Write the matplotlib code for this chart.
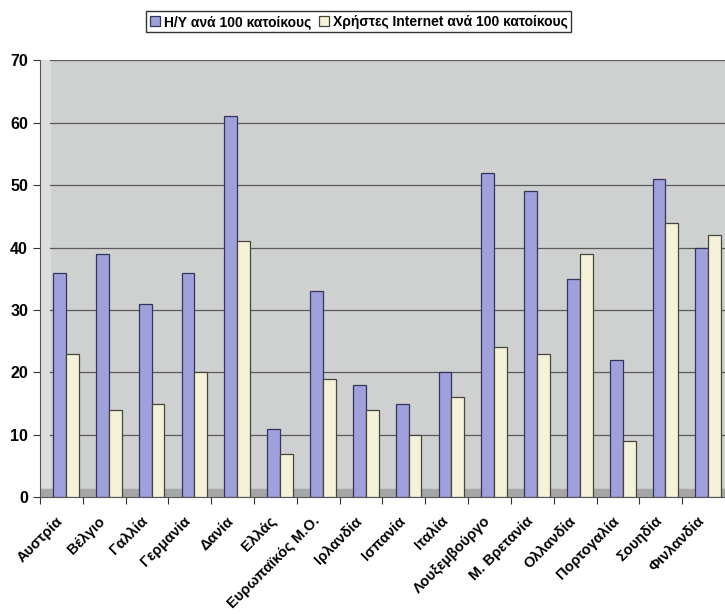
import matplotlib.pyplot as plt
from matplotlib.patches import Rectangle
import numpy as np

countries = ['Αυστρία', 'Βέλγιο', 'Γαλλία', 'Γερμανία', 'Δανία', 'Ελλάς',
             'Ευρωπαϊκός Μ.Ο.', 'Ιρλανδία', 'Ισπανία', 'Ιταλία', 'Λουξεμβούργο',
             'Μ. Βρετανία', 'Ολλανδία', 'Πορτογαλία', 'Σουηδία', 'Φινλανδία']
pcs = [36, 39, 31, 36, 61, 11, 33, 18, 15, 20, 52, 49, 35, 22, 51, 40]
internet = [23, 14, 15, 20, 41, 7, 19, 14, 10, 16, 24, 23, 39, 9, 44, 42]
label_pcs = 'Η/Υ ανά 100 κατοίκους'
label_net = 'Χρήστες Internet ανά 100 κατοίκους'

plt.rcParams['font.family'] = ['Liberation Sans', 'DejaVu Sans']

fig = plt.figure(figsize=(7.25, 6.14), dpi=100)
ax = fig.add_axes([0.055, 0.19, 0.945, 0.712])
ax.set_facecolor('#cfd1d1')

x = np.arange(len(countries))
w = 0.30
ax.bar(x - 0.04, pcs, w, color='#a0a0dc', edgecolor='#34345a', linewidth=0.9,
       label=label_pcs, zorder=3)
ax.bar(x + 0.26, internet, w, color='#f4f2d8', edgecolor='#46463a', linewidth=0.9,
       label=label_net, zorder=3)

# grid on the back wall
for v in range(10, 80, 10):
    ax.axhline(v, xmin=0.015, color='#5a5a5a', lw=0.9, zorder=1)
# left wall and floor for the 3d look
ax.add_patch(Rectangle((0, 0), 0.015, 1, transform=ax.transAxes,
                       color='#dcdddd', zorder=0.5))
ax.add_patch(Rectangle((0, 0), 1, 0.02, transform=ax.transAxes,
                       color='#a6a6a6', zorder=2))

ax.set_xlim(-0.5, len(countries) - 0.5)
ax.set_ylim(0, 70)
ax.set_yticks(range(0, 80, 10))
ax.set_xticks(x - 0.5)
ax.set_xticklabels([])
ax.set_xticks(x - 0.14, minor=True)
ax.set_xticklabels(countries, minor=True, rotation=45, ha='right',
                   rotation_mode='anchor', fontsize=10.5, fontweight='bold')
ax.tick_params(axis='x', which='minor', length=0, pad=12)
ax.tick_params(axis='x', which='major', length=5, color='#333333')
ax.tick_params(axis='y', length=5, labelsize=11.5, color='#333333')
for t in ax.get_yticklabels():
    t.set_fontweight('bold')
for s in ['top', 'right']:
    ax.spines[s].set_visible(False)
ax.spines['left'].set_color('#555555')
ax.spines['bottom'].set_color('#555555')

leg = fig.legend(loc='upper center', bbox_to_anchor=(0.495, 0.993), ncol=2,
                 frameon=True, fancybox=False, edgecolor='black',
                 handlelength=0.7, handleheight=0.7,
                 handletextpad=0.3, columnspacing=0.6, borderpad=0.25,
                 prop={'weight': 'bold', 'size': 10})
leg.get_frame().set_linewidth(1.0)

fig.savefig('out.png', dpi=100)
